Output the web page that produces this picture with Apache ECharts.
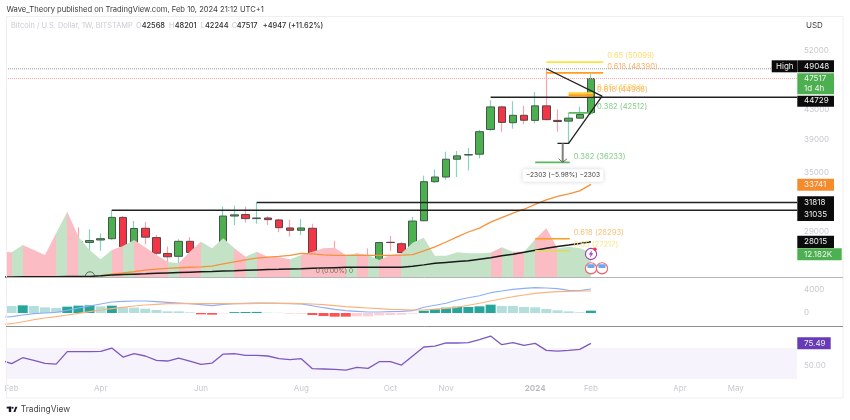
<!DOCTYPE html>
<html><head><meta charset="utf-8">
<style>html,body{margin:0;padding:0;background:#fff}#c{width:850px;height:420px}</style>
<script src="https://cdn.jsdelivr.net/npm/echarts@6/dist/echarts.min.js"></script>
</head><body><div id="c"></div>
<script>
// ---- data (slot 1 is the first visible week; slot 53 is the latest candle) ----
const axisLabels = {1:'Feb',9:'Apr',18:'Jun',27:'Aug',35:'Oct',40:'Nov',48:'2024',53:'Feb',61:'Apr',66:'May'};
const priceTicks = [29000,35000,39000,43000,52000];
const macdTicks = [0,4000];
const rsiTicks = [50];
// open, close, low, high
const ohlc = [
[23300,21900,21500,23450],[21900,24300,21400,25200],[24300,23200,22800,25200],[23200,22400,21900,23900],[22400,20500,19600,22600],
[20500,28040,19600,28420],[28040,27950,26690,29360],[27960,28130,26560,29180],[28180,28300,27220,28800],[28300,30320,28200,31035],
[30320,27570,27100,30480],[27570,29250,26900,29970],[29270,28440,27800,29880],[28400,27000,25530,28650],[26980,26690,26190,27600],
[26730,28060,25640,28250],[28060,27070,26560,28450],[27040,25870,25300,27380],[25870,26250,25000,26760],[26280,30450,26250,31400],
[30450,30570,29570,31500],[30600,30200,29800,31400],[30200,30260,29700,31818],[30260,30100,29570,30430],[30070,29330,28900,30170],
[29300,29080,28500,30100],[29080,29300,28650,30150],[29270,26160,25300,29700],[26100,26000,25200,26800],[25970,25840,25100,28100],
[25840,25700,25330,26450],[25700,26500,25000,27000],[26500,26210,25800,27430],[26160,27950,25950,28000],[27970,27950,27200,28550],
[27840,27060,26550,28000],[27060,29960,27000,30370],[29990,34030,29950,34700],[34030,34550,33900,35400],[34550,36600,34250,37500],
[36600,37000,34550,37600],[37100,37150,35300,37950],[37200,40010,36700,40250],[40300,43350,40100,44300],[43350,41230,40000,43500],
[41190,42190,40400,44150],[42190,41520,41000,43500],[41500,43500,41100,45500],[43500,41600,41500,49048],[41500,41350,40000,43000],
[41400,41800,38530,42500],[41800,42300,41700,43400],[42568,47517,42244,48201]];
// slots 0..53
const volumes = [12330,12010,15580,13150,10710,21260,31810,19640,13150,8600,13150,15090,18020,14440,10710,7470,6650,12330,17200,13960,18830,13960,9900,12330,9900,9580,8600,10710,12330,13960,14280,10710,11520,10710,8280,10710,11520,16720,19150,10390,10390,12010,11520,11520,11850,14440,12330,12330,18340,23700,13960,14770,13960,12182];
// slots 9..53
const ema50 = [25080,25240,25330,25430,25560,25640,25700,25760,25800,25840,25890,26090,26260,26430,26570,26660,26730,26820,26990,26950,26860,26820,26820,26820,26820,26820,26820,26830,26880,27200,27560,28000,28460,28920,29290,29860,30290,30740,31130,31630,32090,32460,32720,33039,33741];
// slots 0..53
const ma200 = [25005,25010,25015,25020,25025,25030,25035,25040,25050,25100,25160,25200,25230,25260,25300,25330,25360,25390,25420,25450,25490,25510,25550,25580,25610,25630,25660,25680,25710,25740,25770,25800,25810,25810,25810,25810,25810,25880,26000,26130,26210,26280,26340,26470,26600,26770,26910,27090,27260,27430,27590,27720,27870,28015];
// slots 1..53
const macdHist = [1197,1311,1197,969,855,1083,1254,1311,1140,1254,969,912,741,513,285,285,114,-228,-285,-57,150,170,190,57,40,-114,-114,-342,-513,-627,-627,-570,-570,-399,-342,-285,-114,399,627,912,1083,1026,1140,1425,1197,1197,1026,969,684,456,285,114,399];
const macdStrong = [0,1,0,0,0,1,1,1,0,1,0,0,0,0,0,0,0,1,1,0,1,1,1,0,0,0,0,1,1,1,1,0,0,0,0,0,0,1,1,1,1,1,1,1,0,0,0,0,0,0,0,0,1];
// slots 0..53
const macdLine = [-741,-627,-342,-114,0,114,456,855,1197,1539,1881,1995,2052,2052,1938,1824,1710,1596,1425,1254,1482,1596,1653,1710,1710,1653,1596,1539,1254,912,627,399,285,171,171,228,285,399,969,1311,1653,2223,2622,2964,3477,3762,4047,4218,4332,4275,4161,3876,3819,4104];
const signalLine = [-1995,-1824,-1482,-1140,-855,-627,-342,-57,228,513,741,969,1197,1368,1482,1596,1596,1596,1596,1596,1596,1596,1596,1653,1653,1653,1653,1596,1539,1425,1254,1083,969,855,741,627,570,513,513,684,798,969,1311,1653,2052,2451,2793,3078,3363,3534,3648,3705,3762,3762];
const rsi = [54.2,49.6,57.2,53.8,50,49.1,64.9,64.9,64.9,65.3,69.6,58.1,62.3,59.4,53.8,53,56.8,53,48.7,50.4,61.9,62.3,60.2,60.2,59.4,56,54.7,56,43.2,42.8,42.3,41.5,44.9,43.6,52.1,52.1,47.9,59.4,70.9,72.1,76,76,76.4,80.2,84.9,73.8,76.4,73,75.5,66.6,65.7,66.6,67.9,75.49];
// level, from slot, to slot, colour, label
const fibLevels = [
 [50099,49,54.1,'#ffe23b','0.65 (50099)','#fddc6c'],
 [48390,49,54.1,'#ff9d1e','0.618 (48390)','#f9b26c'],
 [45294,51,53.2,'#ffd23b','0.65 (45294)','#fddc6c'],
 [44988,51,53.2,'#ff9d1e','0.618 (44988)','#f9b26c'],
 [42512,51,53.2,'#5cb85c','0.382 (42512)','#86cb89'],
 [36233,48,51.1,'#5cb85c','0.382 (36233)','#86cb89'],
 [28293,48,51.1,'#ff9d1e','0.618 (28293)','#f9c078'],
 [27217,48,51.1,'#dcdc5a','0.65 (27217)','#fde68a']];
const levelLines = [[44729,44],[31818,23],[31035,10]];
const patternPath = [[49,49048],[54,44900],[51,38530],[50,38530]];
const measure = [[50.47,38530],[50.47,36233]];
const measureHead = [[50.1,36650],[50.47,36233],[50.85,36650]];

// ---- layout ----
const SLOTS=71, FONT='Inter, sans-serif', PRICE_MIN=25000;
const cats=[]; for(let i=1;i<=SLOTS;i++) cats.push(axisLabels[i]||'');
const grids=[{left:6,top:16,width:791,height:261},{left:6,top:278,width:791,height:48},{left:6,top:327,width:791,height:54}];
const tickColor='#c6c9cf';
const hiddenX=g=>({type:'value',gridIndex:g,min:0.5,max:SLOTS+0.5,show:false});
const hiddenCat=g=>({type:'category',gridIndex:g,data:cats,show:false});
const xAxis=[hiddenCat(0),hiddenX(0),hiddenCat(1),hiddenX(1),
 {type:'category',gridIndex:2,data:cats,position:'bottom',axisLine:{show:false},axisTick:{show:false},
  axisLabel:{interval:0,margin:4,hideOverlap:false,fontFamily:FONT,fontSize:8,color:tickColor,
   formatter:v=>v==='2024'?'{b|2024}':v,rich:{b:{fontFamily:FONT,fontSize:8,fontWeight:700,color:'#b9bcc3'}}}},
 hiddenX(2)];
const axisText={color:tickColor,fontFamily:FONT,fontSize:8,margin:7,showMinLabel:true,showMaxLabel:true};
const yAxis=[
 {type:'log',gridIndex:0,position:'right',min:PRICE_MIN,max:58180,axisLine:{show:false},axisTick:{show:false,customValues:priceTicks},splitLine:{show:false},minorSplitLine:{show:false},
  axisLabel:Object.assign({},axisText,{customValues:priceTicks,formatter:v=>String(Math.round(v))})},
 {type:'value',gridIndex:0,min:0,max:127100,show:false},
 {type:'value',gridIndex:1,position:'right',min:-2223,max:5985,axisLine:{show:false},axisTick:{show:false},splitLine:{show:false},
  axisLabel:Object.assign({},axisText,{customValues:macdTicks,formatter:v=>String(v)})},
 {type:'value',gridIndex:2,position:'right',min:27.5,max:96.4,axisLine:{show:false},axisTick:{show:false},splitLine:{show:false},
  axisLabel:Object.assign({},axisText,{customValues:rsiTicks,verticalAlign:'top',lineHeight:5,formatter:v=>v.toFixed(2)})}];

const GREEN='#c4e3c6',RED='#fbbcc3';
const pieces=[];
volumes.forEach((_,i)=>{ if(i<ohlc.length){ const c=ohlc[i]; pieces.push({gte:i,lt:i+1,color:c[1]>=c[0]?GREEN:RED}); }});
const indexed=(arr,start)=>arr.map((v,i)=>[i+start,v]);
const lineS=(xi,yi,data,color,width,extra)=>Object.assign({type:'line',xAxisIndex:xi,yAxisIndex:yi,data,symbol:'none',silent:true,clip:true,
  lineStyle:{color,width}},extra||{});
// candles below the price pane are held at the pane floor so they stay inside it
const floorPrice=c=>c.map(v=>Math.max(v,PRICE_MIN));
const series=[];
series.push({type:'line',name:'vol',xAxisIndex:1,yAxisIndex:1,data:indexed(volumes,0),symbol:'none',silent:true,clip:true,
  lineStyle:{width:0},areaStyle:{opacity:1}});
series.push(lineS(1,0,[[0.5,49048],[SLOTS+0.5,49048]],'#9a9a9a',1,{lineStyle:{color:'#9a9a9a',width:1,type:[1,1]}}));
series.push(lineS(1,0,[[0.5,47517],[SLOTS+0.5,47517]],'#f8a0a8',1,{lineStyle:{color:'#f8a0a8',width:1,type:[1,1]}}));
series.push(lineS(1,0,indexed(ema50,9),'#f7913a',1.3));
series.push(lineS(1,0,indexed(ma200,0),'#1a1a1a',1.5));
series.push(lineS(1,0,[[levelLines[0][1],levelLines[0][0]],[SLOTS+0.5,levelLines[0][0]]],'#222',1.4));
fibLevels.forEach(f=>series.push(lineS(1,0,[[f[1],f[0]],[f[2],f[0]]],f[3],f[2]<54&&f[0]>44000&&f[0]<46000?2.4:1.7,{
  endLabel:{show:true,formatter:f[4],color:f[5],fontFamily:FONT,fontSize:7.6,offset:[3,-6],distance:1}})));
series.push(lineS(1,0,patternPath,'#222',1.3));
series.push(lineS(1,0,measure,'#808080',2));
series.push(lineS(1,0,measureHead,'#666',1));
// wicks (thin, pale) underneath the bodies
series.push({type:'candlestick',xAxisIndex:0,yAxisIndex:0,silent:true,clip:true,barWidth:1,data:ohlc.map(floorPrice),
  itemStyle:{color:'#86d2c3',color0:'#f9a3ab',borderColor:'#86d2c3',borderColor0:'#f9a3ab',borderWidth:1.2}});
// bodies
series.push({type:'candlestick',xAxisIndex:0,yAxisIndex:0,silent:true,clip:true,barWidth:8,
  data:ohlc.map(floorPrice).map(c=>[c[0],c[1],Math.min(c[0],c[1]),Math.max(c[0],c[1])]),
  itemStyle:{color:'#4caf50',color0:'#f23645',borderColor:'#44584a',borderColor0:'#5a4448',borderWidth:1}});
levelLines.slice(1).forEach(l=>series.push(lineS(1,0,[[l[1],l[0]],[SLOTS+0.5,l[0]]],'#222',1.4)));
// MACD
const macdCol=(v,s)=>v>=0?(s?'#26a69a':'#b2dfdb'):(s?'#ff5252':'#ffcdd2');
series.push({type:'bar',xAxisIndex:2,yAxisIndex:2,barWidth:10,silent:true,
  data:macdHist.map((v,i)=>({value:v,itemStyle:{color:macdCol(v,macdStrong[i])}}))});
series.push(lineS(3,2,indexed(macdLine,0),'#8eaefb',1.1));
series.push(lineS(3,2,indexed(signalLine,0),'#fdb27c',1.1));
// RSI
series.push(lineS(5,3,indexed(rsi,0),'#7e57c2',1.3,{
  markArea:{silent:true,itemStyle:{color:'#f6f3fc'},data:[[{yAxis:70,x:6},{yAxis:30,x:797}]]}}));

// ---- page furniture ----
const G=[];
const T=(text,x,y,o)=>G.push({type:'text',x,y,silent:true,z:100,style:Object.assign({text,fontFamily:FONT,fontSize:8,fill:'#333',verticalAlign:'middle',align:'left'},o||{})});
const R=(x,y,w,h,fill,o)=>G.push({type:'rect',shape:{x,y,width:w,height:h},silent:true,z:90,style:Object.assign({fill},o||{})});
const L=(x1,y1,x2,y2,stroke,w)=>G.push({type:'line',shape:{x1,y1,x2,y2},silent:true,z:90,style:{stroke,lineWidth:w||1}});
R(6.5,16.5,836.5,381.5,'none',{stroke:'#efefef',lineWidth:1});
L(6,277.5,843,277.5,'#b5b5b5',1); L(6,326.5,843,326.5,'#8f8f8f',1);
T('Wave_Theory published on TradingView.com, Feb 10, 2024 21:12 UTC+1',6.5,9.5,{fontSize:7.6,fill:'#3a3a3a'});
const pale='#c8ccd4',dark='#2f2f2f';
T('Bitcoin / U.S. Dollar, 1W, BITSTAMP',11,26,{fontSize:7.4,fill:pale});
[['O',136,'42568',141.7],['H',169,'48201',174.7],['L',200.7,'42244',205],['C',231.7,'47517',236.7]].forEach(a=>{
  T(a[0],a[1],26,{fontSize:7.4,fill:pale}); T(a[2],a[3],26,{fontSize:7.4,fill:dark,fontWeight:500});});
T('+4947 (+11.62%)',262.7,26,{fontSize:7.4,fill:dark,fontWeight:500});
T('USD',806,26,{fontSize:8,fill:'#444'});
// price badges
const badge=(x,y,w,h,fill,lines)=>{R(x,y,w,h,fill,{}); lines.forEach(l=>T(l[0],l[1],l[2],{fill:'#f2f2f2',fontSize:8,letterSpacing:0.2}));};
badge(771.7,60.3,25.3,12,'#0b0b0b',[['High',776,66.3]]);
badge(797.3,60.3,36.7,12,'#0b0b0b',[['49048',804,66.3]]);
badge(797.3,73.3,36.7,21,'#4caf50',[['47517',804,79],['1d 4h',804,89]]);
badge(797.3,95.7,36.7,11,'#0b0b0b',[['44729',804,101]]);
badge(797.3,178.7,36.7,12,'#f68b2c',[['33741',804,184.7]]);
badge(797.3,196.3,36.7,24.7,'#0b0b0b',[['31818',804,202.7],['31035',804,214.7]]);
badge(797.3,235.7,36.7,12.3,'#0b0b0b',[['28015',804,241.7]]);
badge(797.3,248.3,44.4,12,'#4caf50',[['12.182K',804,254.3]]);
badge(797.3,337.3,33.4,12,'#673ab7',[['75.49',804,343.3]]);
// measure tooltip
G.push({type:'rect',shape:{x:522.7,y:169.3,width:80.6,height:12.4,r:2},silent:true,z:95,style:{fill:'#fff',shadowBlur:4,shadowColor:'rgba(0,0,0,.18)'}});
T('\u22122303 (\u22125.98%) \u22122303',563,175.5,{fontSize:6.6,fill:'#444',align:'center'});
T('0 (0.00%) 0',334.5,270.7,{fontSize:6.6,fill:'#7a6f5a',align:'center'});
// small arc
G.push({type:'arc',shape:{cx:90,cy:276.5,r:4.7,startAngle:Math.PI,endAngle:2*Math.PI},silent:true,z:95,style:{stroke:'#444',fill:'none',lineWidth:.8}});
// event icons
G.push({type:'circle',shape:{cx:591,cy:254,r:5.6},silent:true,z:95,style:{fill:'#fff',stroke:'#a13bc4',lineWidth:1.1}});
G.push({type:'polygon',shape:{points:[[592.3,250.3],[588.8,254.6],[590.7,254.6],[589.8,257.7],[593.3,253.3],[591.3,253.3]]},silent:true,z:96,style:{fill:'#a13bc4'}});
G.push({type:'circle',shape:{cx:595,cy:249.3,r:1.7},silent:true,z:96,style:{fill:'#f23645'}});
[591,602].forEach(cx=>{const cy=268.3;
  G.push({type:'circle',shape:{cx,cy,r:5.6},silent:true,z:95,style:{fill:'#fff',stroke:'#f0606c',lineWidth:1.1}});
  [cy+1,cy+2.6,cy+4].forEach((yy,i)=>L(cx-4+i*.5,yy,cx+4-i*.5,yy,'#f88f98',.9));
  G.push({type:'rect',shape:{x:cx-3.6,y:cy-4,width:7.2,height:3.8,r:1},silent:true,z:96,style:{fill:'#6aa9f0'}});});
// brand
R(6.7,406.7,4.6,1.8,'#131722'); R(8.8,406.7,2.4,5.3,'#131722');
G.push({type:'circle',shape:{cx:12.6,cy:407.7,r:1},silent:true,z:90,style:{fill:'#131722'}});
G.push({type:'polygon',shape:{points:[[13.4,412],[15.4,406.7],[17.4,406.7],[15.3,412]]},silent:true,z:90,style:{fill:'#131722'}});
T('TradingView',20.7,409.7,{fontSize:8.4,fill:'#444'});

const chart=echarts.init(document.getElementById('c'),null,{renderer:'canvas'});
chart.setOption({animation:false,backgroundColor:'#fff',grid:grids,xAxis,yAxis,series,graphic:{elements:G},
  visualMap:{show:false,seriesIndex:0,dimension:0,type:'piecewise',pieces,outOfRange:{color:'#c4e3c6'}}});
</script></body></html>
